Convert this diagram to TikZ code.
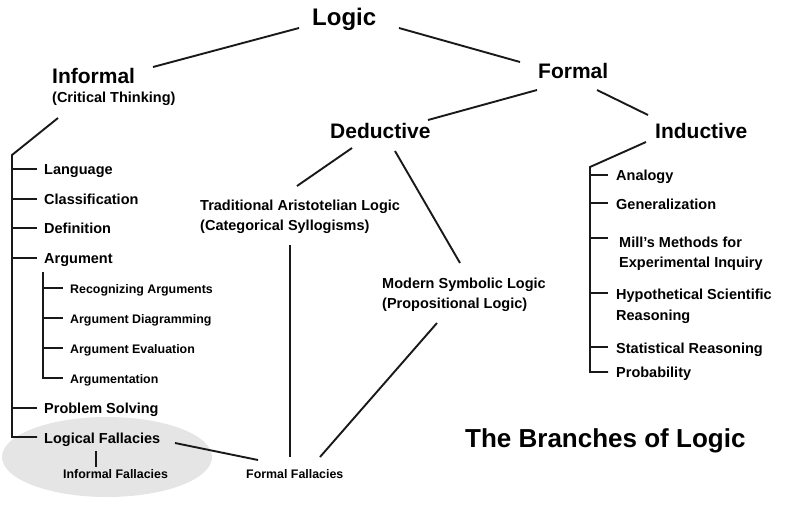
\documentclass[tikz,border=0pt]{standalone}
\usepackage{fontspec}
\setmainfont{Liberation Sans}
\begin{document}
\begin{tikzpicture}[x=1pt,y=-1pt,
  txt/.style={inner sep=0pt, anchor=base west},
  bigtxt/.style={txt, font=\fontsize{24}{28}\selectfont\bfseries},
  titletxt/.style={txt, font=\fontsize{26}{30}\selectfont\bfseries},
  headtxt/.style={txt, font=\fontsize{21}{25}\selectfont\bfseries},
  medtxt/.style={txt, font=\fontsize{14.5}{17}\selectfont\bfseries},
  smalltxt/.style={txt, font=\fontsize{12.4}{15}\selectfont\bfseries},
  ln/.style={line width=1.9pt, draw=black!90}]
\useasboundingbox (0,0) rectangle (790,504);
% highlight ellipse
\fill[black!10] (107,457) ellipse [x radius=105, y radius=40];

% top level
\node[bigtxt] (logic) at (312,25) {Logic};
\node[headtxt] (informal) at (52,83) {Informal};
\node[medtxt] (critical) at (52,102) {(Critical Thinking)};
\node[headtxt] (formal) at (538,78) {Formal};
\node[headtxt] (deductive) at (330,138) {Deductive};
\node[headtxt] (inductive) at (655,138) {Inductive};

\coordinate (lgL) at (299,28);  \coordinate (infR) at (153,67);
\coordinate (lgR) at (399,28);  \coordinate (forL) at (520,62);
\coordinate (forDL) at (537,90); \coordinate (dedR) at (428,120);
\coordinate (forDR) at (597,90); \coordinate (indL) at (648,115);
\draw[ln] (lgL) -- (infR);
\draw[ln] (lgR) -- (forL);
\draw[ln] (forDL) -- (dedR);
\draw[ln] (forDR) -- (indL);

% informal tree
\node[medtxt] (lang) at (44,174) {Language};
\node[medtxt] (class) at (44,204) {Classification};
\node[medtxt] (defn) at (44,233) {Definition};
\node[medtxt] (arg) at (44,263) {Argument};
\node[smalltxt] (recog) at (70,293) {Recognizing Arguments};
\node[smalltxt] (diag) at (70,323) {Argument Diagramming};
\node[smalltxt] (evalu) at (70,353) {Argument Evaluation};
\node[smalltxt] (argtn) at (70,383) {Argumentation};
\node[medtxt] (probs) at (44,413) {Problem Solving};
\node[medtxt] (logf) at (44,443) {Logical Fallacies};
\node[smalltxt] (inff) at (63,478) {Informal Fallacies};
\node[smalltxt] (forf) at (246,478) {Formal Fallacies};

\coordinate (infA) at (58,118);
\coordinate (infB) at (12,155);
\draw[ln] (infA) -- (infB) -- (12,437) -- (37,437);
\foreach \y in {169,199,228,258,408} \draw[ln] (12,\y) -- (37,\y);
\draw[ln] (43,272) -- (43,378) -- (63,378);
\foreach \y in {288,318,348} \draw[ln] (43,\y) -- (63,\y);
\draw[ln] (96,451) -- (96,467);

% deductive
\node[medtxt] (trad) at (200,210) {Traditional Aristotelian Logic};
\node[medtxt] (trad2) at (200,230) {(Categorical Syllogisms)};
\node[medtxt] (modern) at (382,288) {Modern Symbolic Logic};
\node[medtxt] (modern2) at (382,308) {(Propositional Logic)};

\draw[ln] (352,148) -- (297,186);
\draw[ln] (395,151) -- (460,263);
\draw[ln] (290,245) -- (290,457);
\draw[ln] (437,323) -- (320,457);
\draw[ln] (175,443) -- (258,460);

% inductive tree
\node[medtxt] (analogy) at (616,180) {Analogy};
\node[medtxt] (gener) at (616,209) {Generalization};
\node[medtxt] (mill) at (619,247) {Mill’s Methods for};
\node[medtxt] (mill2) at (619,267) {Experimental Inquiry};
\node[medtxt] (hypo) at (616,299) {Hypothetical Scientific};
\node[medtxt] (hypo2) at (616,320) {Reasoning};
\node[medtxt] (stat) at (616,353) {Statistical Reasoning};
\node[medtxt] (prob) at (616,377) {Probability};

\coordinate (indA) at (646,142);
\coordinate (indB) at (590,167);
\draw[ln] (indA) -- (indB) -- (590,372) -- (608,372);
\foreach \y in {175,203,238,293,347} \draw[ln] (590,\y) -- (608,\y);

% title
\node[titletxt] (title) at (465,447) {The Branches of Logic};
\end{tikzpicture}
\end{document}
